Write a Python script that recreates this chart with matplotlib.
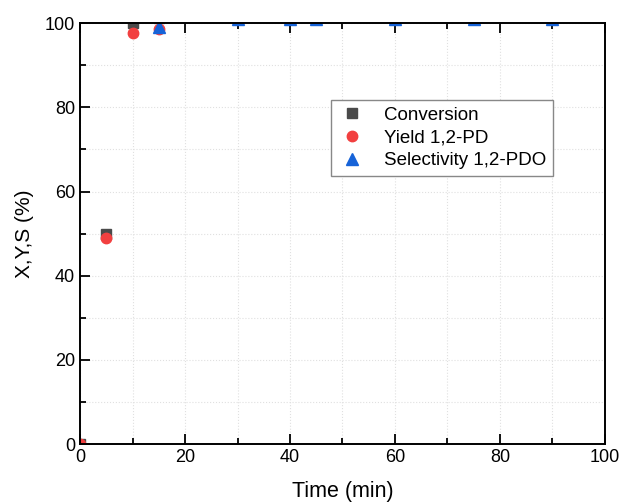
import numpy as np
import matplotlib.pyplot as plt
from matplotlib.ticker import MultipleLocator

plt.rcParams['font.family'] = ['Liberation Sans', 'DejaVu Sans']

time_conv = [0, 5, 10, 15, 30, 40, 45, 60, 75, 90]
conversion = [0, 50, 100, 101.3, 101, 101, 101, 101, 101, 101]

time_yield = [0, 5, 10, 15, 30, 40, 45, 60, 75, 90]
yield_pd = [0, 49, 97.7, 98.6, 101, 101, 101, 101, 101, 101]

time_sel = [15, 30, 40, 45, 60, 75, 90]
selectivity = [99.2, 100.9, 100.9, 100.9, 100.9, 100.9, 100.9]

fig = plt.figure(figsize=(6.21, 5.03), dpi=100)
ax = fig.add_axes([0.129, 0.117, 0.845, 0.837])

ax.plot(time_conv, conversion, 's', color='#4a4a4a', ms=6.5, label='Conversion', zorder=3)
ax.plot(time_yield, yield_pd, 'o', color='#f24040', ms=7.5, label='Yield 1,2-PD', zorder=4)
ax.plot(time_sel, selectivity, '^', color='#1663d8', ms=8.5, label='Selectivity 1,2-PDO', zorder=5)

ax.set_xlim(0, 100)
ax.set_ylim(0, 100)
ax.xaxis.set_major_locator(MultipleLocator(20))
ax.xaxis.set_minor_locator(MultipleLocator(10))
ax.yaxis.set_major_locator(MultipleLocator(20))
ax.yaxis.set_minor_locator(MultipleLocator(10))
ax.tick_params(which='both', direction='in', top=True, right=False, labelsize=13, width=1.3)
ax.tick_params(which='major', length=7)
ax.tick_params(which='minor', length=4)
ax.grid(which='both', color='#e0e0e0', linestyle=':', linewidth=0.8)
ax.set_axisbelow(True)
for s in ax.spines.values():
    s.set_linewidth(1.4)
    s.set_zorder(6)

ax.set_xlabel('Time (min)', fontsize=15.5, labelpad=11)
ax.set_ylabel('X,Y,S (%)', fontsize=15, labelpad=8)

leg = ax.legend(loc='upper left', bbox_to_anchor=(0.478, 0.817), fontsize=13.5,
                fancybox=False, framealpha=1, edgecolor='#888888', borderaxespad=0,
                handletextpad=0.9, borderpad=0.35, labelspacing=0.3, handlelength=1.6)
leg.get_frame().set_linewidth(1.0)

fig.savefig('out.png', dpi=100)
